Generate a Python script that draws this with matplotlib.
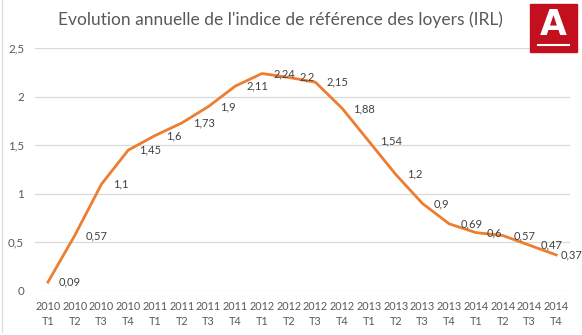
import matplotlib
matplotlib.use("Agg")
import matplotlib.pyplot as plt
from matplotlib.patches import Rectangle
from matplotlib.lines import Line2D

years = ["2010"] * 4 + ["2011"] * 4 + ["2012"] * 4 + ["2013"] * 4 + ["2014"] * 4
quarters = ["T1", "T2", "T3", "T4"] * 5
values = [0.09, 0.57, 1.1, 1.45, 1.6, 1.73, 1.9, 2.11, 2.24, 2.2,
          2.15, 1.88, 1.54, 1.2, 0.9, 0.69, 0.6, 0.57, 0.47, 0.37]
title = "Evolution annuelle de l'indice de référence des loyers (IRL)"

W, H = 582, 335
FONT = "Lato"
TXT = "#595959"
fig = plt.figure(figsize=(W / 100, H / 100), dpi=100)

x0, x1 = 34.6, 569.6
ytop, ybot = 48.3, 290.8
ax = fig.add_axes([x0 / W, (H - ybot) / H, (x1 - x0) / W, (ybot - ytop) / H])

xs = list(range(len(values)))
ax.plot(xs, values, color="#ED7D31", lw=2.0, solid_joinstyle="round", zorder=3)
for i, (x, v) in enumerate(zip(xs, values)):
    off = 8.0 if i < len(values) - 1 else 3.0
    ax.annotate(f"{v:g}".replace(".", ","), (x, v), xytext=(off, 0),
                textcoords="offset points", ha="left", va="center",
                fontsize=8, color="#404040", family=FONT, zorder=4)

ax.set_xlim(-0.5, len(values) - 0.5)
ax.set_ylim(0, 2.5)
ax.set_yticks([0, 0.5, 1, 1.5, 2, 2.5])
ax.set_yticklabels([f"{t:g}".replace(".", ",") for t in [0, 0.5, 1, 1.5, 2, 2.5]])
ax.set_xticks(xs)
ax.set_xticklabels([f"{y}\n{q}" for y, q in zip(years, quarters)], linespacing=1.55)
for lab in ax.get_xticklabels():
    lab.set_family(FONT)
    lab.set_fontsize(7.8)
    lab.set_color(TXT)
for lab in ax.get_yticklabels():
    lab.set_family(FONT)
    lab.set_fontsize(8.3)
    lab.set_color(TXT)
ax.tick_params(axis="both", length=0)
ax.tick_params(axis="y", pad=7.5)
ax.tick_params(axis="x", pad=7)
ax.grid(axis="y", color="#D9D9D9", lw=0.9)
ax.set_axisbelow(True)
for s in ax.spines.values():
    s.set_visible(False)

fig.text(280 / W, 1 - 20 / H, title, ha="center", va="center",
         fontsize=12.5, color=TXT, family=FONT)

# left border
fig.add_artist(Line2D([1.5 / W, 1.5 / W], [1 - 332 / H, 1.0], color="#E0E0E0", lw=1))

# logo
lx0, lx1, ly0, ly1 = 530, 577, 4, 52
fig.add_artist(Rectangle((lx0 / W, 1 - ly1 / H), (lx1 - lx0) / W, (ly1 - ly0) / H,
                         color="#C3101E", zorder=5))
fig.text((lx0 + lx1) / 2 / W, 1 - 25 / H, "A", ha="center", va="center",
         fontsize=25, color="white", family="DejaVu Sans", weight="bold", zorder=6)
fig.add_artist(Line2D([(lx0 + 8) / W, (lx1 - 8) / W], [1 - 45 / H, 1 - 45 / H],
                      color="white", lw=1.5, zorder=6))

fig.savefig("out.png", dpi=100)
